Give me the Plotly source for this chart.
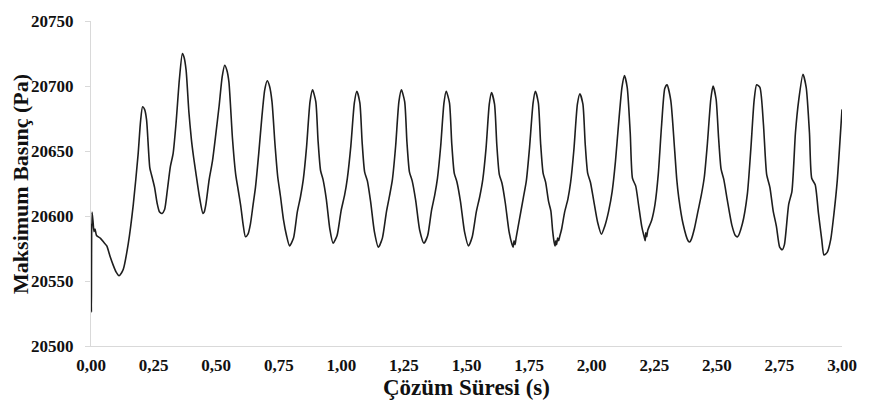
import plotly.graph_objects as go

# Time (s) and maximum pressure (Pa)
time_s = [
    0.000, 0.0015, 0.004, 0.008, 0.012, 0.016, 0.022, 0.037, 0.050, 0.063, 0.076, 0.089, 0.100, 0.112,
    0.121, 0.129, 0.149, 0.169, 0.188, 0.198, 0.206, 0.214, 0.222, 0.235, 0.244, 0.254, 0.264, 0.274,
    0.284, 0.294, 0.305, 0.317, 0.328, 0.340, 0.353, 0.365, 0.372, 0.380, 0.391, 0.401, 0.410, 0.419,
    0.433, 0.447, 0.452, 0.459, 0.472, 0.485, 0.498, 0.512, 0.524, 0.534, 0.543, 0.551, 0.565, 0.578,
    0.588, 0.598, 0.608, 0.617, 0.627, 0.637, 0.647, 0.657, 0.670, 0.683, 0.694, 0.704, 0.713, 0.723,
    0.735, 0.746, 0.757, 0.769, 0.781, 0.793,
    0.809, 0.824, 0.837, 0.848, 0.861, 0.875, 0.885, 0.898, 0.907, 0.917, 0.927, 0.940, 0.954, 0.967,
    0.983, 0.999, 1.013, 1.024, 1.038, 1.052, 1.062, 1.074, 1.083, 1.093, 1.104, 1.117, 1.132, 1.148,
    1.164, 1.180, 1.193, 1.204, 1.217, 1.230, 1.240, 1.253, 1.262, 1.272, 1.283, 1.297, 1.313, 1.330,
    1.345, 1.360, 1.373, 1.384, 1.397, 1.410, 1.419, 1.432, 1.441, 1.451, 1.462, 1.476, 1.492, 1.508,
    1.523, 1.539, 1.553, 1.565, 1.578, 1.591, 1.600, 1.612, 1.621, 1.631, 1.642, 1.655, 1.670, 1.682,
    1.686, 1.690, 1.694, 1.698,
    1.712, 1.727, 1.739, 1.752, 1.766, 1.775, 1.787, 1.796, 1.806, 1.816, 1.828, 1.837, 1.844, 1.850,
    1.854, 1.857, 1.860, 1.864, 1.868, 1.872,
    1.880, 1.892, 1.905, 1.916, 1.929, 1.943, 1.953, 1.965, 1.974, 1.984, 1.995, 2.008, 2.024, 2.039,
    2.052, 2.068, 2.082, 2.095, 2.108, 2.121, 2.131, 2.142, 2.154, 2.163, 2.176, 2.187, 2.200, 2.211,
    2.214, 2.216, 2.220, 2.224,
    2.240, 2.253, 2.266, 2.279, 2.292, 2.301, 2.316, 2.331, 2.340, 2.348, 2.365, 2.385, 2.392, 2.398,
    2.410, 2.425, 2.438, 2.450, 2.462, 2.476, 2.485, 2.497, 2.507, 2.517, 2.528, 2.542, 2.560, 2.574,
    2.583,
    2.602, 2.622, 2.636, 2.649, 2.659, 2.672, 2.686, 2.699, 2.712, 2.725, 2.738, 2.751, 2.761, 2.770,
    2.787, 2.800, 2.814, 2.827, 2.844, 2.857, 2.870, 2.879, 2.893, 2.906, 2.919, 2.928, 2.941, 2.955,
    2.968, 2.981, 3.000,
]

pressure_pa = [
    20594, 20526, 20603, 20596, 20588, 20590, 20585, 20583, 20580, 20577, 20569, 20562, 20557, 20554,
    20556, 20559, 20579, 20609, 20647, 20673, 20684, 20682, 20674, 20637, 20630, 20622, 20610, 20603,
    20602, 20605, 20620, 20638, 20648, 20672, 20705, 20725, 20722, 20712, 20680, 20659, 20645, 20633,
    20615, 20602, 20603, 20609, 20628, 20642, 20662, 20685, 20707, 20716, 20712, 20703, 20660, 20632,
    20620, 20608, 20593, 20584, 20586, 20594, 20608, 20622, 20648, 20677, 20697, 20704, 20700, 20688,
    20655, 20630, 20615, 20597, 20585, 20577,
    20583, 20603, 20615, 20628, 20653, 20688, 20697, 20688, 20658, 20635, 20628, 20613, 20590, 20579,
    20585, 20604, 20616, 20629, 20654, 20687, 20696, 20687, 20657, 20634, 20627, 20611, 20588, 20576,
    20583, 20603, 20616, 20628, 20654, 20688, 20697, 20688, 20657, 20634, 20627, 20612, 20589, 20579,
    20585, 20604, 20616, 20629, 20654, 20687, 20696, 20687, 20656, 20633, 20626, 20611, 20588, 20577,
    20584, 20603, 20615, 20628, 20652, 20686, 20695, 20686, 20655, 20632, 20625, 20610, 20588, 20578,
    20576, 20581, 20578, 20583,
    20598, 20614, 20627, 20653, 20687, 20696, 20687, 20656, 20633, 20626, 20611, 20604, 20589, 20580,
    20577, 20581, 20578, 20583, 20581, 20584,
    20590, 20603, 20613, 20626, 20651, 20686, 20694, 20686, 20656, 20633, 20626, 20612, 20595, 20586,
    20592, 20604, 20619, 20642, 20672, 20699, 20708, 20699, 20664, 20629, 20623, 20609, 20592, 20583,
    20581, 20587, 20584, 20589,
    20597, 20609, 20632, 20669, 20698, 20701, 20689, 20652, 20628, 20614, 20594, 20581, 20580, 20582,
    20590, 20604, 20616, 20630, 20655, 20690, 20700, 20690, 20660, 20636, 20628, 20612, 20593, 20585,
    20584,
    20594, 20617, 20652, 20689, 20701, 20699, 20671, 20632, 20622, 20604, 20592, 20576, 20574, 20578,
    20609, 20619, 20664, 20689, 20709, 20699, 20664, 20629, 20624, 20602, 20582, 20570, 20572, 20582,
    20602, 20627, 20682,
]

x_tick_values = [0.0, 0.25, 0.5, 0.75, 1.0, 1.25, 1.5, 1.75, 2.0, 2.25, 2.5, 2.75, 3.0]
x_tick_labels = ["0,00", "0,25", "0,50", "0,75", "1,00", "1,25", "1,50", "1,75",
                 "2,00", "2,25", "2,50", "2,75", "3,00"]
y_tick_values = [20500, 20550, 20600, 20650, 20700, 20750]
y_tick_labels = ["20500", "20550", "20600", "20650", "20700", "20750"]

x_title = "Çözüm Süresi (s)"
y_title = "Maksimum Basınç (Pa)"

font_family = "Liberation Serif"

fig = go.Figure()
fig.add_trace(go.Scatter(
    x=time_s, y=pressure_pa, mode="lines",
    line=dict(color="#1e1e1e", width=1.6, shape="spline", smoothing=0.6),
    showlegend=False, hoverinfo="x+y",
))

fig.update_layout(
    width=869, height=412,
    margin=dict(l=91, r=20, t=12, b=66),
    paper_bgcolor="white", plot_bgcolor="white",
    font=dict(family=font_family, color="#111111"),
    annotations=[
        dict(text="<b>" + x_title + "</b>", xref="paper", yref="paper",
             x=0.5, y=-0.128, xanchor="center", yanchor="middle", showarrow=False,
             font=dict(family=font_family, size=23, color="#111111")),
        dict(text="<b>" + y_title + "</b>", xref="paper", yref="paper",
             x=-0.094, y=0.5, xanchor="center", yanchor="middle", showarrow=False,
             textangle=-90,
             font=dict(family=font_family, size=22, color="#111111")),
    ],
)

fig.update_xaxes(
    range=[0, 3], tickvals=x_tick_values, ticktext=x_tick_labels,
    showgrid=False, zeroline=False,
    showline=True, linecolor="#d9d9d9", linewidth=1,
    ticks="", ticklabelstandoff=4,
    tickfont=dict(family=font_family, size=17, color="#111111", weight="bold"),
)

fig.update_yaxes(
    range=[20500, 20750], tickvals=y_tick_values, ticktext=y_tick_labels,
    showgrid=False, zeroline=False,
    showline=True, linecolor="#d9d9d9", linewidth=1,
    ticks="outside", ticklen=5, tickcolor="#d9d9d9", ticklabelstandoff=8,
    tickfont=dict(family=font_family, size=17, color="#111111", weight="bold"),
)

fig.write_html("out.html")
